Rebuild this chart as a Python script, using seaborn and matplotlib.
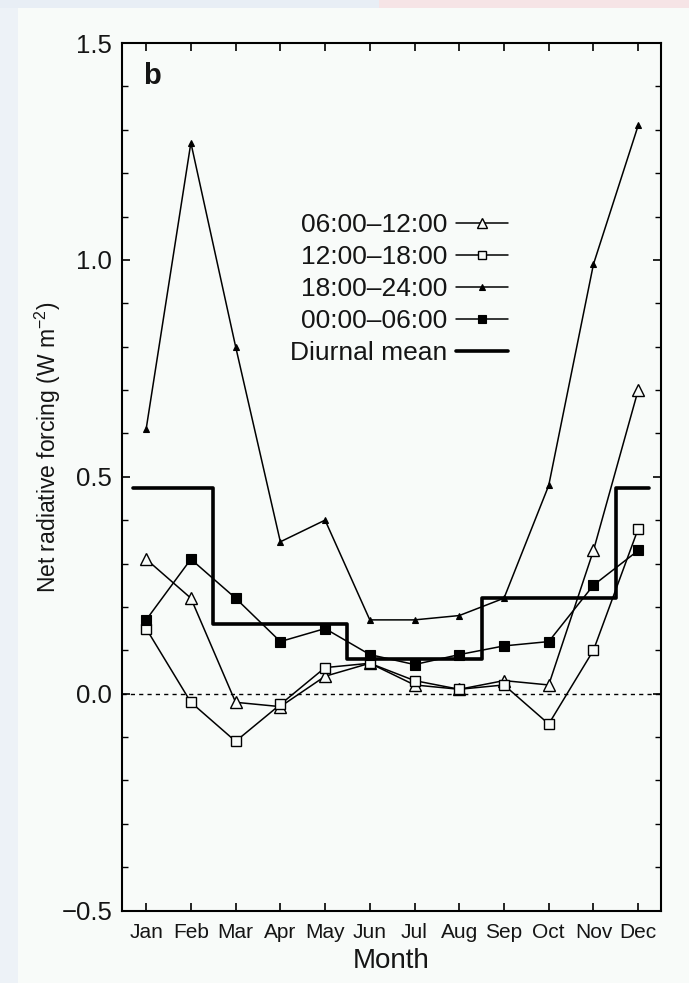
import numpy as np
import pandas as pd
import matplotlib
matplotlib.use("Agg")
import matplotlib.pyplot as plt
from matplotlib.ticker import MultipleLocator, FixedLocator
from matplotlib.patches import Rectangle
from matplotlib.lines import Line2D
import seaborn as sns

# Monthly net radiative forcing (W m-2) by time of day
months = ["Jan", "Feb", "Mar", "Apr", "May", "Jun",
          "Jul", "Aug", "Sep", "Oct", "Nov", "Dec"]
morning = [0.31, 0.22, -0.02, -0.03, 0.04, 0.07, 0.02, 0.01, 0.03, 0.02, 0.33, 0.70]       # 06:00-12:00
afternoon = [0.15, -0.02, -0.11, -0.025, 0.06, 0.07, 0.03, 0.01, 0.02, -0.07, 0.10, 0.38]  # 12:00-18:00
evening = [0.61, 1.27, 0.80, 0.35, 0.40, 0.17, 0.17, 0.18, 0.22, 0.48, 0.99, 1.31]         # 18:00-24:00
night = [0.17, 0.31, 0.22, 0.12, 0.15, 0.09, 0.067, 0.09, 0.11, 0.12, 0.25, 0.33]          # 00:00-06:00

# Seasonal diurnal mean (DJF, MAM, JJA, SON, DJF)
season_mean = [0.475, 0.16, 0.08, 0.22, 0.475]
season_edges = [-0.3, 1.5, 4.5, 7.5, 10.5, 11.25]

series_labels = ["06:00\u201312:00", "12:00\u201318:00", "18:00\u201324:00", "00:00\u201306:00"]
mean_label = "Diurnal mean"

sns.set_style("ticks")
plt.rcParams["font.family"] = ["Liberation Sans", "DejaVu Sans"]
plt.rcParams["mathtext.fontset"] = "custom"
plt.rcParams["mathtext.rm"] = "Liberation Sans"
plt.rcParams["mathtext.default"] = "regular"
ink = "#151515"
plt.rcParams["text.color"] = ink
plt.rcParams["axes.labelcolor"] = ink
plt.rcParams["xtick.color"] = "black"
plt.rcParams["ytick.color"] = "black"
plt.rcParams["xtick.labelcolor"] = ink
plt.rcParams["ytick.labelcolor"] = ink

bg = "#f8fbf9"
fig = plt.figure(figsize=(6.89, 9.83), dpi=100, facecolor=bg)
ax = fig.add_axes([122 / 689, (983 - 910.5) / 983, (661 - 122) / 689, (910.5 - 43) / 983])
ax.set_facecolor(bg)

# page edge strips
fig.patches.append(Rectangle((0, 0), 18 / 689, 1, transform=fig.transFigure,
                             facecolor="#edf2f7", edgecolor="none", zorder=0))
fig.patches.append(Rectangle((0, 1 - 8 / 983), 0.55, 8 / 983, transform=fig.transFigure,
                             facecolor="#e8eef5", edgecolor="none", zorder=0))
fig.patches.append(Rectangle((0.55, 1 - 8 / 983), 0.45, 8 / 983, transform=fig.transFigure,
                             facecolor="#f6e4e6", edgecolor="none", zorder=0))

x = np.arange(len(months))
lw = 1.1

ax.axhline(0, color="black", lw=1.0, ls=(0, (3, 3)), zorder=1)

styles = [
    dict(data=morning, marker="^", ms=8, mfc=bg, mew=1.0),
    dict(data=afternoon, marker="s", ms=7, mfc=bg, mew=1.0),
    dict(data=evening, marker="^", ms=5, mfc="black", mew=0.8),
    dict(data=night, marker="s", ms=6.5, mfc="black", mew=0.8),
]

handles = []
for lab, st in zip(series_labels, styles):
    sns.lineplot(x=x, y=st["data"], ax=ax, color="black", lw=lw,
                 marker=st["marker"], markersize=st["ms"],
                 markerfacecolor=st["mfc"], markeredgecolor="black",
                 markeredgewidth=st["mew"], zorder=3)
    handles.append(Line2D([], [], color="black", lw=lw, marker=st["marker"],
                          markersize=st["ms"] * 0.9, markerfacecolor=st["mfc"],
                          markeredgecolor="black", markeredgewidth=st["mew"],
                          label=lab))

ax.step(season_edges, season_mean + [season_mean[-1]], where="post",
        color="black", lw=2.6, zorder=2)
handles.append(Line2D([], [], color="black", lw=2.6, label=mean_label))

ax.set_xlim(-0.54, 11.51)
ax.set_ylim(-0.5, 1.5)
ax.xaxis.set_major_locator(FixedLocator(x))
ax.set_xticklabels(months)
ax.yaxis.set_minor_locator(MultipleLocator(0.1))
ax.set_yticks([-0.5, 0.0, 0.5, 1.0, 1.5])
ax.set_yticklabels(["\u22120.5", "0.0", "0.5", "1.0", "1.5"])

for sp in ax.spines.values():
    sp.set_visible(True)
    sp.set_linewidth(1.5)
    sp.set_color("black")

ax.tick_params(axis="x", which="major", direction="in", top=True, bottom=True,
               length=6, width=1.2, labelsize=15, pad=9)
ax.tick_params(axis="y", which="major", direction="in", left=True, right=True,
               length=6, width=1.2, labelsize=18.5, pad=7)
ax.tick_params(axis="y", which="minor", direction="in", left=True, right=True,
               length=4, width=1.0)

ax.set_xlabel("Month", fontsize=20, labelpad=4)
ax.set_ylabel("")
fig.text(48 / 689, 1 - 447 / 983, "Net radiative forcing (W m$^{\u22122}$)",
         rotation=90, ha="center", va="center", fontsize=16.5)

ax.text(0.039, 0.978, "b", transform=ax.transAxes, fontsize=21,
        fontweight="bold", ha="left", va="top")

leg = ax.legend(handles=handles, loc="upper right",
                bbox_to_anchor=(0.716, 0.8035), frameon=False, markerfirst=False,
                fontsize=19, handlelength=1.97, handletextpad=0.34,
                labelspacing=0.3, borderpad=0, borderaxespad=0)

fig.savefig("out.png", dpi=100, facecolor=bg)
